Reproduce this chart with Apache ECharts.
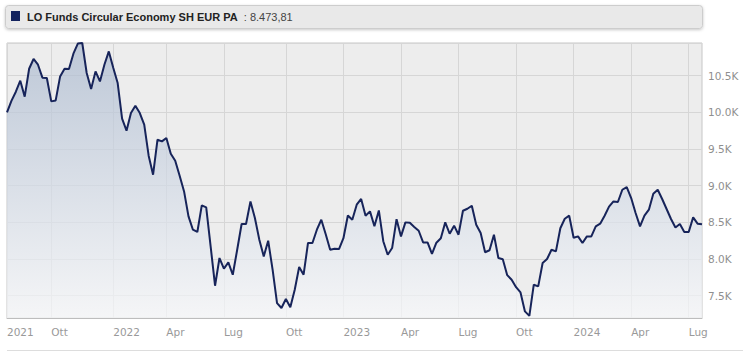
<!DOCTYPE html>
<html><head><meta charset="utf-8">
<script src="https://cdn.jsdelivr.net/npm/echarts@6/dist/echarts.min.js"></script>
<style>html,body{margin:0;padding:0;background:#fff}#c{width:743px;height:356px}</style>
</head><body><div id="c"></div>
<script>
const seriesName = 'LO Funds Circular Economy SH EUR PA';
const startDate = '2021-07-23';
const values = [
10000,10156,10282,10432,10214,10595,10728,10650,10473,10469,
10150,10163,10490,10595,10591,10800,10938,10946,10537,10319,
10559,10422,10650,10831,10609,10400,9914,9750,9991,10091,
9991,9832,9409,9150,9627,9604,9650,9436,9341,9136,
8922,8581,8400,8369,8731,8704,8172,7636,8014,7868,
7954,7786,8127,8478,8478,8786,8560,8264,8036,8250,
7855,7400,7332,7455,7343,7582,7891,7786,8219,8219,
8400,8536,8339,8127,8141,8136,8284,8594,8536,8741,
8819,8591,8650,8448,8663,8243,8059,8150,8543,8309,
8500,8495,8437,8386,8227,8227,8069,8223,8284,8500,
8345,8455,8332,8659,8686,8727,8468,8355,8093,8120,
8332,8014,7998,7780,7718,7616,7545,7286,7225,7650,
7627,7946,8000,8127,8104,8420,8550,8591,8291,8309,
8219,8309,8309,8445,8482,8591,8714,8786,8778,8945,
8982,8832,8628,8445,8591,8673,8891,8945,8819,8682,
8546,8431,8478,8369,8369,8568,8482,8473.81
];
const tickIndex = [0,10,24,36,49,63,76,89,102,115,128,141,154];
const tickText = ['2021','Ott','2022','Apr','Lug','Ott','2023','Apr','Lug','Ott','2024','Apr','Lug'];
const yMin = 7196, yMax = 10946;

// weekly dates
const categories = [];
(function(){
  const d0 = new Date(startDate + 'T00:00:00Z');
  for (let i = 0; i < values.length; i++) {
    const d = new Date(d0.getTime() + i * 7 * 86400000);
    categories.push(d.toISOString().slice(0, 10));
  }
})();

function fmtIt(v) {
  const s = v.toFixed(2);
  const [ip, dp] = s.split('.');
  return ip.replace(/\B(?=(\d{3})+(?!\d))/g, '.') + ',' + dp;
}
const tickMap = {};
tickIndex.forEach((i, k) => { tickMap[i] = tickText[k]; });
const isTick = (idx) => Object.prototype.hasOwnProperty.call(tickMap, idx);

const FONT = 'DejaVu Sans';
const chart = echarts.init(document.getElementById('c'), null, { renderer: 'svg' });
chart.setOption({
  animation: false,
  backgroundColor: '#ffffff',
  grid: {
    left: 7, right: 41, top: 43, bottom: 38,
    show: true, backgroundColor: '#ededed', borderColor: '#c6c6c6', borderWidth: 1
  },
  xAxis: {
    type: 'category',
    data: categories,
    boundaryGap: false,
    axisLine: { show: true, lineStyle: { color: '#bdbdbd', width: 1 } },
    axisTick: { show: false },
    axisLabel: {
      interval: (idx) => isTick(idx),
      formatter: (val, idx) => tickMap[idx] || '',
      align: 'left',
      color: '#999999',
      fontFamily: FONT,
      fontSize: 10.5,
      margin: 8
    },
    splitLine: {
      show: true,
      interval: (idx) => isTick(idx),
      lineStyle: { color: '#d6d6d6', width: 1 }
    }
  },
  yAxis: {
    type: 'value',
    position: 'right',
    min: yMin,
    max: yMax,
    splitNumber: 8,
    minInterval: 500,
    maxInterval: 500,
    axisLine: { show: false },
    axisTick: { show: false },
    axisLabel: {
      showMinLabel: false,
      showMaxLabel: false,
      formatter: (v) => (v % 500 === 0 ? (v / 1000).toFixed(1) + 'K' : ''),
      color: '#8f8f8f',
      fontFamily: FONT,
      fontSize: 10.5,
      margin: 6
    },
    splitLine: { show: true, lineStyle: { color: '#d6d6d6', width: 1 } }
  },
  series: [{
    name: seriesName,
    type: 'line',
    data: values,
    showSymbol: false,
    symbol: 'none',
    lineStyle: { color: '#17245a', width: 2 },
    itemStyle: { color: '#17245a' },
    areaStyle: {
      color: new echarts.graphic.LinearGradient(0, 0, 0, 1, [
        { offset: 0, color: '#a9b8ce' },
        { offset: 1, color: '#f8f9fb' }
      ])
    },
    z: 3
  }],
  graphic: [
    {
      type: 'rect',
      shape: { x: 5.5, y: 5.5, width: 697, height: 23, r: 3 },
      style: { fill: '#e9e9e9', stroke: '#cdcdcd', lineWidth: 1,
        shadowBlur: 3, shadowOffsetY: 1, shadowColor: 'rgba(0,0,0,0.22)' },
      z: 1
    },
    {
      type: 'rect',
      shape: { x: 11, y: 11, width: 9, height: 10 },
      style: { fill: '#13235e' },
      z: 2
    },
    {
      type: 'text',
      x: 27, y: 17,
      style: {
        text: '{n|' + seriesName + '}{v|  : ' + fmtIt(values[values.length - 1]) + '}',
        verticalAlign: 'middle',
        rich: {
          n: { fontFamily: 'Liberation Sans', fontWeight: 'bold', fontSize: 11, fill: '#222222', color: '#222222' },
          v: { fontFamily: 'Liberation Sans', fontSize: 11, fill: '#444444', color: '#444444' }
        }
      },
      z: 2
    },
    {
      type: 'line',
      shape: { x1: 7, y1: 350.5, x2: 743, y2: 350.5 },
      style: { stroke: '#dddddd', lineWidth: 1 },
      z: 1
    }
  ]
});
</script>
</body></html>
